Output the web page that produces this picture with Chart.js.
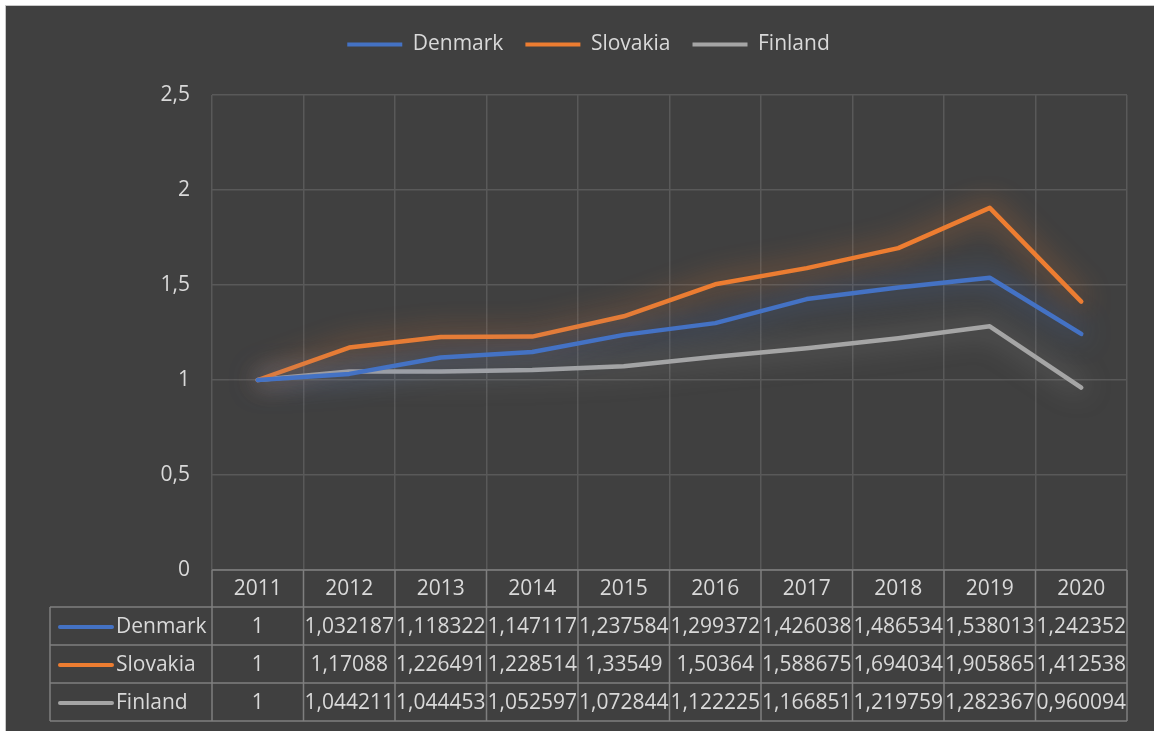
<!DOCTYPE html>
<html>
<head>
<meta charset="utf-8">
<script src="https://cdn.jsdelivr.net/npm/chart.js@4.4.1/dist/chart.umd.min.js"></script>
<style>
  body { margin: 0; background: #fff; }
  #wrap { position: absolute; left: 5px; top: 5px; border-left: 1px solid #c8c8c8; border-top: 1px solid #c8c8c8; background: #404040; }
  canvas { display: block; }
</style>
</head>
<body>
<div id="wrap"><canvas id="chart" width="1148" height="725"></canvas></div>
<script>
// Data
const years = ['2011', '2012', '2013', '2014', '2015', '2016', '2017', '2018', '2019', '2020'];
const denmark = [1, 1.032187, 1.118322, 1.147117, 1.237584, 1.299372, 1.426038, 1.486534, 1.538013, 1.242352];
const slovakia = [1, 1.17088, 1.226491, 1.228514, 1.33549, 1.50364, 1.588675, 1.694034, 1.905865, 1.412538];
const finland = [1, 1.044211, 1.044453, 1.052597, 1.072844, 1.122225, 1.166851, 1.219759, 1.282367, 0.960094];
const yTicks = [0, 0.5, 1, 1.5, 2, 2.5];

const FONT = "'Open Sans', sans-serif";
const TEXT = '#d9d9d9';
const fmt = v => String(v).replace('.', ',');

const series = [
  { label: 'Denmark', data: denmark, color: '#4472C4', glow: 'rgba(68,114,196,0.9)' },
  { label: 'Slovakia', data: slovakia, color: '#ED7D31', glow: 'rgba(237,125,49,0.9)' },
  { label: 'Finland', data: finland, color: '#A5A5A5', glow: 'rgba(165,165,165,0.75)' }
];

// soft glow under each line
const glowPlugin = {
  id: 'glow',
  beforeDatasetDraw(chart, args) {
    const ctx = chart.ctx;
    ctx.save();
    ctx.shadowColor = series[args.index].glow;
    ctx.shadowBlur = 28;
  },
  afterDatasetDraw(chart) {
    chart.ctx.restore();
  }
};

// extra room under the legend, and centre it on the whole canvas
const legendSpace = {
  id: 'legendSpace',
  beforeInit(chart) {
    const legend = chart.legend;
    const fit = legend.fit;
    legend.fit = function () {
      fit.call(this);
      this.height += 30;
    };
    const draw = legend.draw;
    legend.draw = function () {
      const ctx = this.ctx;
      ctx.save();
      ctx.translate(22, 0);
      draw.call(this);
      ctx.restore();
    };
  }
};

// data table under the plot
const tablePlugin = {
  id: 'dataTable',
  afterDraw(chart) {
    const ctx = chart.ctx;
    const x = chart.scales.x;
    const area = chart.chartArea;
    const colW = (area.right - area.left) / years.length;
    const headTop = area.bottom;
    const headH = 37;
    const rowH = 38;
    const labelLeft = 44;
    const tableBottom = headTop + headH + rowH * series.length;

    ctx.save();
    ctx.strokeStyle = '#7f7f7f';
    ctx.lineWidth = 1.5;
    ctx.beginPath();
    ctx.moveTo(area.left, headTop); ctx.lineTo(area.right, headTop);
    for (let r = 0; r <= series.length; r++) {
      const y = headTop + headH + r * rowH;
      ctx.moveTo(labelLeft, y); ctx.lineTo(area.right, y);
    }
    for (let c = 0; c <= years.length; c++) {
      const xx = area.left + c * colW;
      ctx.moveTo(xx, headTop); ctx.lineTo(xx, tableBottom);
    }
    ctx.moveTo(labelLeft, headTop + headH); ctx.lineTo(labelLeft, tableBottom);
    ctx.stroke();

    ctx.fillStyle = TEXT;
    ctx.font = '21px ' + FONT;
    ctx.textAlign = 'center';
    ctx.textBaseline = 'middle';
    years.forEach((yr, i) => {
      ctx.fillText(yr, x.getPixelForValue(i), headTop + headH / 2 + 1);
    });

    series.forEach((s, r) => {
      const cy = headTop + headH + r * rowH + rowH / 2 + 1;
      ctx.strokeStyle = s.color;
      ctx.lineWidth = 4;
      ctx.lineCap = 'round';
      ctx.beginPath();
      ctx.moveTo(54, cy); ctx.lineTo(106, cy);
      ctx.stroke();
      ctx.textAlign = 'left';
      ctx.fillText(s.label, 110, cy);
      ctx.textAlign = 'center';
      s.data.forEach((v, i) => {
        ctx.fillText(fmt(v), x.getPixelForValue(i), cy);
      });
    });
    ctx.restore();
  }
};

new Chart(document.getElementById('chart'), {
  type: 'line',
  data: {
    labels: years,
    datasets: series.map(s => ({
      label: s.label,
      data: s.data,
      borderColor: s.color,
      backgroundColor: s.color,
      borderWidth: 4.5,
      borderCapStyle: 'round',
      borderJoinStyle: 'round',
      pointRadius: 0,
      tension: 0
    }))
  },
  options: {
    responsive: false,
    devicePixelRatio: 1,
    animation: false,
    layout: { padding: { top: 6, left: 0, right: 27, bottom: 161 } },
    plugins: {
      tooltip: { enabled: false },
      legend: {
        position: 'top',
        labels: {
          color: TEXT,
          font: { family: FONT, size: 21 },
          boxWidth: 55,
          boxHeight: 4,
          padding: 22,
          generateLabels: chart => chart.data.datasets.map((d, i) => ({
            text: d.label,
            fillStyle: d.borderColor,
            strokeStyle: d.borderColor,
            lineWidth: 0,
            fontColor: TEXT,
            hidden: false,
            datasetIndex: i
          }))
        }
      }
    },
    scales: {
      x: {
        offset: true,
        grid: { color: '#595959', lineWidth: 1.5, offset: true, drawTicks: false },
        border: { display: false },
        ticks: { display: false },
        afterFit: s => { s.height = 0; }
      },
      y: {
        min: 0,
        max: 2.5,
        afterBuildTicks: s => { s.ticks = yTicks.map(v => ({ value: v })); },
        grid: { color: '#595959', lineWidth: 1.5, drawTicks: false },
        border: { display: false },
        ticks: {
          color: TEXT,
          padding: 22,
          font: { family: FONT, size: 21 },
          callback: v => fmt(v)
        },
        afterFit: s => { s.width = 206; }
      }
    }
  },
  plugins: [glowPlugin, legendSpace, tablePlugin]
});
</script>
</body>
</html>
